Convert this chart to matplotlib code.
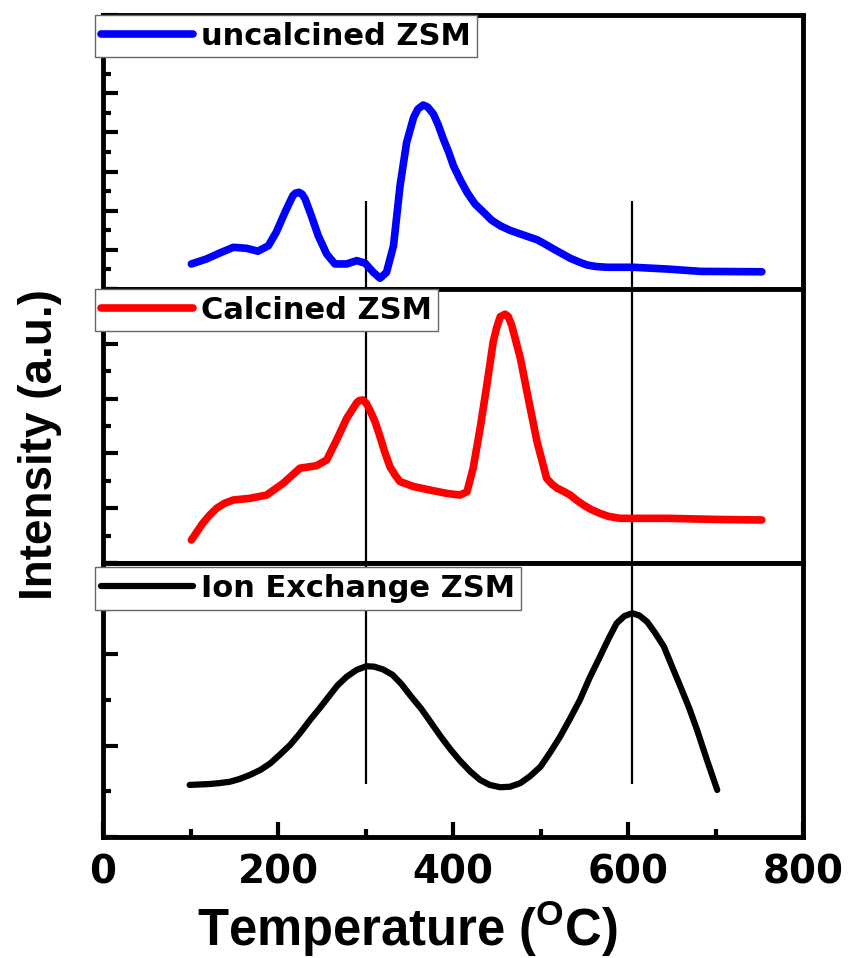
import numpy as np
import matplotlib
matplotlib.use('Agg')
import matplotlib.pyplot as plt
from matplotlib.ticker import MultipleLocator

plt.rcParams['mathtext.fontset'] = 'custom'
plt.rcParams['mathtext.rm'] = 'Liberation Sans:bold'
plt.rcParams['mathtext.bf'] = 'Liberation Sans:bold'

# uncalcined ZSM (blue, top panel)
t_unc = [101, 118, 133.5, 149, 164, 177, 189, 198, 208, 217, 220, 224, 227.5, 231, 238, 246,
         255.6, 265, 278.5, 290, 299.5, 309, 316.6, 324, 332, 339.5, 347, 355, 360, 366,
         371, 377.6, 383, 389, 395, 400.5, 408, 416, 425, 435, 444, 454, 465, 477, 496,
         505, 515, 534, 544, 553, 563, 576, 606, 645, 683, 753]
i_unc = [1.28, 1.53, 1.84, 2.13, 2.08, 1.93, 2.21, 2.90, 3.92, 4.77, 4.90, 4.94, 4.85, 4.60,
         3.75, 2.72, 1.79, 1.28, 1.28, 1.45, 1.32, 0.85, 0.55, 0.85, 2.21, 5.28, 7.49, 8.77,
         9.20, 9.40, 9.30, 8.94, 8.40, 7.66, 7.00, 6.30, 5.60, 4.94, 4.35, 3.92, 3.52, 3.23,
         3.00, 2.81, 2.52, 2.30, 2.04, 1.57, 1.38, 1.23, 1.15, 1.11, 1.11, 1.02, 0.90, 0.88]

# calcined ZSM (red, middle panel)
t_cal = [101, 114, 122, 130, 139, 149, 168, 187, 206, 225, 244, 255.6, 267, 278.5, 290, 293,
         297, 301, 305, 311, 316.6, 322, 328, 334, 339.5, 355, 374, 393, 408, 416, 423, 431,
         438.7, 446, 450, 454, 459.6, 463, 467, 477, 486, 496, 507, 513, 519, 526, 534, 541,
         549, 558, 568, 578, 591, 645, 702, 753]
i_cal = [0.84, 1.45, 1.75, 2.0, 2.18, 2.30, 2.36, 2.48, 2.91, 3.46, 3.55, 3.76, 4.49, 5.28,
         5.85, 5.93, 5.95, 5.82, 5.58, 5.15, 4.61, 4.05, 3.51, 3.20, 2.97, 2.79, 2.66, 2.54,
         2.48, 2.60, 3.46, 4.92, 6.50, 8.08, 8.60, 8.99, 9.08, 9.00, 8.69, 7.47, 6.01, 4.43,
         3.09, 2.88, 2.73, 2.62, 2.48, 2.30, 2.12, 1.95, 1.81, 1.70, 1.63, 1.63, 1.59, 1.57]

# ion exchange ZSM (black, bottom panel)
t_ion = [99, 110, 122, 133, 145, 156, 168, 180, 191, 202, 213.6, 225, 236.5, 248, 259, 268,
         278.5, 290, 301, 310, 320, 331, 341, 352, 364, 375, 386, 397, 408, 420, 431, 442,
         454, 465, 477, 488, 500, 511, 522.5, 534, 545, 556, 568, 578, 587, 596, 605, 613,
         622, 631, 641, 650, 660, 670, 679, 690, 702]
i_ion = [1.14, 1.15, 1.16, 1.18, 1.21, 1.27, 1.36, 1.47, 1.61, 1.80, 2.01, 2.27, 2.56, 2.83,
         3.10, 3.32, 3.51, 3.66, 3.74, 3.73, 3.67, 3.55, 3.35, 3.08, 2.80, 2.50, 2.20, 1.92,
         1.67, 1.43, 1.25, 1.14, 1.09, 1.10, 1.18, 1.33, 1.54, 1.85, 2.20, 2.60, 3.00, 3.48,
         3.95, 4.35, 4.68, 4.84, 4.90, 4.85, 4.71, 4.47, 4.17, 3.75, 3.29, 2.82, 2.34, 1.70,
         1.03]

peak_lines = [300, 605]

panels = [
    (t_unc, i_unc, 'blue', 'uncalcined ZSM', 14, (0, 4.5), 5.5),
    (t_cal, i_cal, 'red', 'Calcined ZSM', 10, (0, 10), 5.5),
    (t_ion, i_ion, 'black', 'Ion Exchange ZSM', 6, (1.16, 6), 4.5),
]

W, H = 848, 958
fig = plt.figure(figsize=(W / 100, H / 100), dpi=100)

left = 103 / W
width = 700 / W
ph = 274 / H
bottoms = [1 - 289 / H, 1 - 563 / H, 1 - 837 / H]

legend_font = {'family': 'DejaVu Sans', 'weight': 'bold', 'size': 22}

for k, (t, y, col, name, ytop, vspan, lw) in enumerate(panels):
    ax = fig.add_axes([left, bottoms[k], width, ph])
    ax.plot(t, y, color=col, lw=lw, solid_capstyle='round', solid_joinstyle='round',
            label=name)
    for xv in peak_lines:
        ax.vlines(xv, vspan[0], vspan[1], color='black', lw=1.6, zorder=1)
    ax.set_xlim(0, 800)
    ax.set_ylim(0, ytop)
    for s in ax.spines.values():
        s.set_linewidth(3.5)
    ax.yaxis.set_major_locator(MultipleLocator(2))
    ax.yaxis.set_minor_locator(MultipleLocator(1))
    ax.tick_params(axis='y', which='major', direction='in', length=11, width=3,
                   labelleft=False)
    ax.tick_params(axis='y', which='minor', direction='in', length=6, width=3)
    ax.xaxis.set_major_locator(MultipleLocator(200))
    ax.xaxis.set_minor_locator(MultipleLocator(100))
    if k < 2:
        ax.tick_params(axis='x', which='both', bottom=False, labelbottom=False)
    else:
        ax.tick_params(axis='x', which='major', direction='in', length=11, width=3, pad=12)
        ax.tick_params(axis='x', which='minor', direction='in', length=6, width=3)
        for lab in ax.get_xticklabels():
            lab.set_fontfamily('DejaVu Sans')
            lab.set_fontweight('bold')
            lab.set_fontsize(28)
    leg = ax.legend(loc='upper left', bbox_to_anchor=(-0.012, 1.0 if k < 2 else 0.985),
                    borderaxespad=0, prop=legend_font, handlelength=3.0,
                    handletextpad=0.25, borderpad=0.22, fancybox=False,
                    framealpha=1, edgecolor='#666666')
    leg.get_frame().set_linewidth(1.0)
    leg.set_zorder(10)

fig.text(40 / W, 1 - 445 / H, 'Intensity (a.u.)', rotation=90, ha='center', va='center',
         family='Liberation Sans', weight='bold', fontsize=33)
fig.text(407 / W, 1 - 929 / H, r'Temperature ($^{\rm O}$C)', ha='center', va='center',
         family='Liberation Sans', weight='bold', fontsize=36.5)

fig.savefig('out.png', dpi=100)
